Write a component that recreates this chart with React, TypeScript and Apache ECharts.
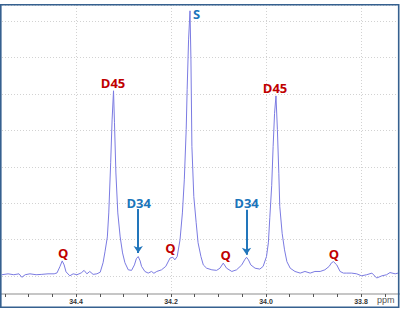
import React, { useEffect, useRef } from "react";
import * as echarts from "echarts";

// Chemical shift (ppm) and intensity
const ppm = [
  34.556, 34.543, 34.531, 34.52, 34.514, 34.507, 34.497, 34.484, 34.472, 34.459,
  34.446, 34.44, 34.434, 34.429, 34.425, 34.421, 34.413, 34.406, 34.398, 34.389,
  34.383, 34.377, 34.371, 34.364, 34.356, 34.349, 34.343, 34.339, 34.334, 34.331,
  34.327, 34.324, 34.321, 34.319, 34.316, 34.312, 34.307, 34.302, 34.297, 34.29,
  34.283, 34.277, 34.273, 34.269, 34.265, 34.262, 34.255, 34.248, 34.241, 34.236,
  34.23, 34.22, 34.211, 34.202, 34.196, 34.192, 34.187, 34.181, 34.176, 34.172,
  34.168, 34.166, 34.163, 34.16, 34.158, 34.156, 34.152, 34.147, 34.143, 34.137,
  34.132, 34.125, 34.114, 34.104, 34.097, 34.09, 34.083, 34.072, 34.062, 34.051,
  34.045, 34.041, 34.037, 34.032, 34.023, 34.013, 34.006, 33.999, 33.995, 33.992,
  33.988, 33.985, 33.982, 33.979, 33.976, 33.973, 33.971, 33.966, 33.961, 33.956,
  33.949, 33.939, 33.928, 33.918, 33.907, 33.897, 33.886, 33.876, 33.867, 33.862,
  33.858, 33.851, 33.844, 33.837, 33.83, 33.82, 33.809, 33.799, 33.788, 33.777,
  33.767, 33.756, 33.746, 33.739, 33.728, 33.722,
];
const intensity = [
  0.03, 0.055, 0.03, 0.055, -0.04, 0.03, 0.055, 0.03, 0.04, 0.055,
  0.055, 0.08, 0.25, 0.41, 0.3, 0.11, 0.0, 0.055, 0.03, 0.08,
  0.15, 0.055, 0.12, 0.04, 0.055, 0.1, 0.36, 0.66, 1.07, 1.73,
  3.11, 4.29, 5.09, 4.21, 2.83, 1.73, 1.07, 0.63, 0.36, 0.165,
  0.15, 0.3, 0.47, 0.53, 0.41, 0.26, 0.12, 0.075, 0.12, 0.07,
  0.12, 0.165, 0.26, 0.49, 0.51, 0.44, 0.53, 0.99, 1.73, 2.64,
  4.02, 5.12, 6.49, 7.29, 5.94, 3.56, 2.18, 1.46, 0.91, 0.53,
  0.3, 0.21, 0.165, 0.15, 0.21, 0.35, 0.21, 0.12, 0.165, 0.3,
  0.44, 0.51, 0.44, 0.3, 0.21, 0.185, 0.26, 0.53, 0.91, 1.6,
  2.48, 3.56, 4.47, 4.95, 4.02, 2.82, 1.91, 1.17, 0.715, 0.39,
  0.21, 0.12, 0.075, 0.12, 0.075, 0.12, 0.12, 0.165, 0.26, 0.36,
  0.39, 0.3, 0.12, 0.075, 0.075, 0.075, 0.055, 0.0, 0.03, 0.075,
  -0.06, 0.0, 0.03, 0.09, 0.055, 0.075,
];

// Peak annotations (text, anchor in data coordinates, colour group)
const labelTexts = ["Q", "D45", "D34", "Q", "S", "Q", "D34", "D45", "Q"];
const labelPpm = [34.427, 34.322, 34.268, 34.201, 34.1463, 34.085, 34.041, 33.981, 33.857];
const labelY = [0.63, 5.31, 2.01, 0.77, 7.21, 0.57, 2.0, 5.17, 0.605];
const labelGroup = ["red", "red", "blue", "red", "blue", "red", "blue", "red", "red"];

// Arrows from D34 labels down to their peaks
const arrowPpm = [34.269, 34.041];
const arrowFrom = [1.84, 1.815];
const arrowTo = [0.63, 0.578];

const RED = "#c00000";
const BLUE = "#1b75bb";

export default function App() {
  const ref = useRef<HTMLDivElement>(null);

  useEffect(() => {
    if (!ref.current) return;
    const chart = echarts.init(ref.current, null, { renderer: "svg" });
    const seriesData = ppm.map((p, i) => [p, intensity[i]]);

    const markPoints = labelTexts.map((t, i) => ({
      coord: [labelPpm[i], labelY[i]],
      label: {
        formatter: t,
        color: labelGroup[i] === "red" ? RED : BLUE,
      },
    }));
    const arrows = arrowPpm.map((p, i) => [
      { coord: [p, arrowFrom[i]] },
      { coord: [p, arrowTo[i]] },
    ]);

    chart.setOption({
      animation: false,
      backgroundColor: "#ffffff",
      grid: {
        left: -19,
        right: -56,
        top: 5,
        bottom: 17,
        containLabel: false,
        outerBoundsMode: "none",
      },
      xAxis: {
        type: "value",
        inverse: true,
        min: 33.6,
        max: 34.6,
        interval: 0.2,
        axisLine: { onZero: false, lineStyle: { color: "#c6c6c6", width: 2 } },
        axisTick: { show: true, length: 3, lineStyle: { color: "#555", width: 1 } },
        minorTick: { show: true, splitNumber: 4, length: 3, lineStyle: { color: "#555", width: 1 } },
        axisLabel: {
          margin: 4,
          fontSize: 7,
          fontWeight: "bold",
          color: "#333",
          fontFamily: "Liberation Sans, Arial, sans-serif",
          showMinLabel: false,
          showMaxLabel: false,
          formatter: (v: number) => v.toFixed(1),
        },
        splitLine: { show: true, lineStyle: { color: "#d2d2d2", type: [1, 2], width: 1 } },
      },
      yAxis: {
        type: "value",
        min: -0.5,
        max: 7.45,
        minInterval: 1,
        maxInterval: 1,
        splitNumber: 8,
        axisLine: { show: false },
        axisTick: { show: false },
        axisLabel: { show: false },
        splitLine: { show: true, lineStyle: { color: "#d2d2d2", type: [1, 2], width: 1 } },
      },
      series: [
        {
          type: "line",
          data: seriesData,
          showSymbol: false,
          symbol: "none",
          smooth: false,
          z: 3,
          lineStyle: { color: "#7b7be2", width: 1 },
          markPoint: {
            silent: true,
            symbol: "circle",
            symbolSize: 1,
            itemStyle: { color: "rgba(0,0,0,0)" },
            label: {
              show: true,
              position: "inside",
              fontSize: 13,
              fontWeight: "bold",
              fontFamily: "Open Sans, sans-serif",
              align: "center",
              verticalAlign: "middle",
            },
            data: markPoints,
          },
          markLine: {
            silent: true,
            symbol: ["none", "arrow"],
            symbolSize: 7,
            label: { show: false },
            lineStyle: { color: "#2276bb", width: 2, type: "solid" },
            data: arrows,
          },
        },
      ],
      graphic: [
        {
          type: "text",
          left: 377,
          top: 295,
          style: { text: "ppm", fontSize: 9, fill: "#555", fontFamily: "Liberation Sans, Arial, sans-serif" },
        },
        {
          type: "rect",
          z: 100,
          shape: { x: 0.8, y: 4.7, width: 397.9, height: 302.6 },
          style: { fill: "none", stroke: "#35608f", lineWidth: 1.6 },
        },
      ],
    });
    return () => chart.dispose();
  }, []);

  return (
    <div
      ref={ref}
      style={{ position: "fixed", left: 0, top: 0, width: 400, height: 311, background: "#fff" }}
    />
  );
}
